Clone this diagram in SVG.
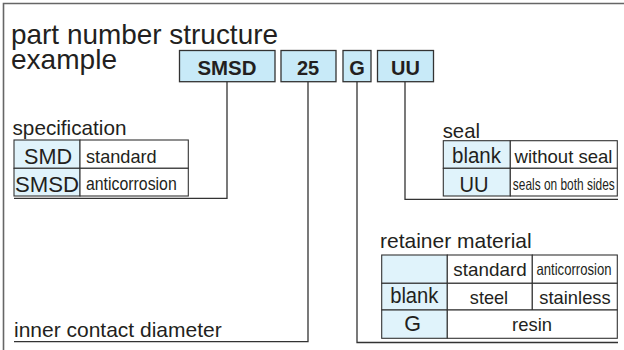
<svg xmlns="http://www.w3.org/2000/svg" width="624" height="350" viewBox="0 0 624 350">
<style>
text{font-family:"Liberation Sans",Arial,Helvetica,sans-serif;fill:#231f20}
.title{font-size:28px}
.lbl{font-size:21px}
.box{fill:#c8eaf8;stroke:#333;stroke-width:1.3}
.code{font-size:20px;font-weight:bold;text-anchor:middle}
.cell{fill:#fff;stroke:#333;stroke-width:1.1}
.key{fill:#e0f3fb;stroke:#333;stroke-width:1.1}
.t1{font-size:21.5px;text-anchor:middle}
.t2{font-size:19px}
.t3{font-size:16.5px}
.c{text-anchor:middle}
.conn{fill:none;stroke:#333;stroke-width:1.3}
</style>
<g id="frame"><path d="M3.5 350V3.5H624" fill="none" stroke="#666" stroke-width="1.6"/></g>
<g id="title">
<text class="title" x="11" y="44" textLength="267" lengthAdjust="spacingAndGlyphs">part number structure</text>
<text class="title" x="11" y="68.5" textLength="106" lengthAdjust="spacingAndGlyphs">example</text>
</g>
<g id="code-smsd"><rect class="box" x="179.5" y="50.5" width="95.5" height="31.2"/><text class="code" x="227" y="75" textLength="59" lengthAdjust="spacingAndGlyphs">SMSD</text></g>
<g id="code-25"><rect class="box" x="281" y="50.5" width="55" height="31.2"/><text class="code" x="308" y="75">25</text></g>
<g id="code-g"><rect class="box" x="343" y="50.5" width="28" height="31.2"/><text class="code" x="357" y="75">G</text></g>
<g id="code-uu"><rect class="box" x="377.5" y="50.5" width="56" height="31.2"/><text class="code" x="405.5" y="75">UU</text></g>
<g id="connectors">
<path class="conn" d="M227 81.7V198.3H14"/>
<path class="conn" d="M308 81.7V341.7H14"/>
<path class="conn" d="M357 81.7V342.5H618"/>
<path class="conn" d="M405 81.7V199.3H618"/>
</g>
<g id="specification">
<text class="lbl" x="12.5" y="135" textLength="114" lengthAdjust="spacingAndGlyphs">specification</text>
<rect class="key" x="14" y="140" width="66" height="28.3"/>
<rect class="key" x="14" y="168.3" width="66" height="27.7"/>
<rect class="cell" x="80" y="140" width="108.3" height="28.3"/>
<rect class="cell" x="80" y="168.3" width="108.3" height="27.7"/>
<text class="t1" x="48" y="164" textLength="48" lengthAdjust="spacingAndGlyphs">SMD</text>
<text class="t1" x="47" y="192" textLength="64" lengthAdjust="spacingAndGlyphs">SMSD</text>
<text class="t2" x="86" y="162.5" textLength="70.7" lengthAdjust="spacingAndGlyphs">standard</text>
<text class="t2" x="86" y="190" textLength="90.7" lengthAdjust="spacingAndGlyphs">anticorrosion</text>
</g>
<g id="seal">
<text class="lbl" x="442.7" y="138.3" textLength="37.3" lengthAdjust="spacingAndGlyphs">seal</text>
<rect class="key" x="443.3" y="140.7" width="67" height="27.6"/>
<rect class="key" x="443.3" y="168.3" width="67" height="27.7"/>
<rect class="cell" x="510.3" y="140.7" width="107" height="27.6"/>
<rect class="cell" x="510.3" y="168.3" width="107" height="27.7"/>
<text class="t1" x="476.5" y="163.3" textLength="49" lengthAdjust="spacingAndGlyphs">blank</text>
<text class="t1" x="474" y="191.7" textLength="29" lengthAdjust="spacingAndGlyphs">UU</text>
<text class="t2 c" x="563.5" y="162.5" textLength="98" lengthAdjust="spacingAndGlyphs">without seal</text>
<text class="t3 c" x="563.8" y="189.5" textLength="102" lengthAdjust="spacingAndGlyphs">seals on both sides</text>
</g>
<g id="retainer-material">
<text class="lbl" x="380" y="248" textLength="151.7" lengthAdjust="spacingAndGlyphs">retainer material</text>
<rect class="key" x="381.7" y="255" width="65.6" height="28.3"/>
<rect class="key" x="381.7" y="283.3" width="65.6" height="26.7"/>
<rect class="key" x="381.7" y="310" width="65.6" height="28.3"/>
<rect class="cell" x="447.3" y="255" width="85" height="28.3"/>
<rect class="cell" x="532.3" y="255" width="85" height="28.3"/>
<rect class="cell" x="447.3" y="283.3" width="85" height="26.7"/>
<rect class="cell" x="532.3" y="283.3" width="85" height="26.7"/>
<rect class="cell" x="447.3" y="310" width="170" height="28.3"/>
<text class="t2 c" x="490" y="275.5" textLength="73.3" lengthAdjust="spacingAndGlyphs">standard</text>
<text class="t3 c" x="574" y="275" textLength="75" lengthAdjust="spacingAndGlyphs">anticorrosion</text>
<text class="t1" x="414.3" y="302.7" textLength="48.3" lengthAdjust="spacingAndGlyphs">blank</text>
<text class="t2 c" x="489" y="303.5" textLength="38.3" lengthAdjust="spacingAndGlyphs">steel</text>
<text class="t2 c" x="575" y="303.5" textLength="71.3" lengthAdjust="spacingAndGlyphs">stainless</text>
<text class="t1" x="412.5" y="331">G</text>
<text class="t2 c" x="532" y="330.5" textLength="40" lengthAdjust="spacingAndGlyphs">resin</text>
</g>
<g id="inner-contact-diameter">
<text class="lbl" x="14" y="336.7" textLength="207.7" lengthAdjust="spacingAndGlyphs">inner contact diameter</text>
</g>
</svg>
